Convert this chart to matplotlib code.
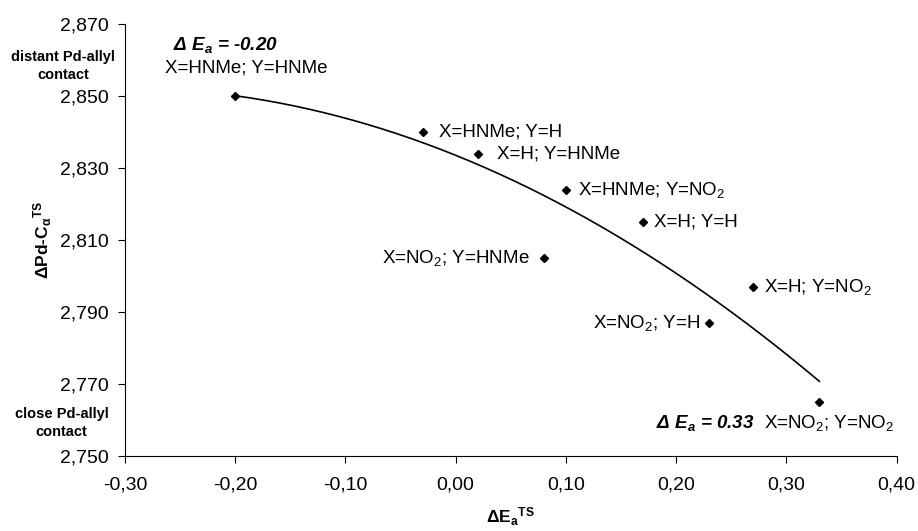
import numpy as np
import matplotlib.pyplot as plt

plt.rcParams['font.family'] = ['Liberation Sans', 'DejaVu Sans']
plt.rcParams['mathtext.default'] = 'regular'

# data
dEa = [-0.20, -0.03, 0.02, 0.10, 0.17, 0.08, 0.27, 0.23, 0.33]
pd_c = [2.850, 2.840, 2.834, 2.824, 2.815, 2.805, 2.797, 2.787, 2.765]
labels = ['X=HNMe; Y=HNMe', 'X=HNMe; Y=H', 'X=H; Y=HNMe', 'X=HNMe; Y=NO$_2$',
          'X=H; Y=H', 'X=NO$_2$; Y=HNMe', 'X=H; Y=NO$_2$', 'X=NO$_2$; Y=H',
          'X=NO$_2$; Y=NO$_2$']
# label offsets in points and alignment
offsets = [(8, 20), (12, 0), (14, 0), (9, 0), (8, 0), (-10, 0), (8, 0), (-6, 0), (7, -15)]
aligns = ['center', 'left', 'left', 'left', 'left', 'right', 'left', 'right', 'center']

fig = plt.figure(figsize=(9.18, 5.31), dpi=100)
ax = fig.add_axes([0.1362, 0.1412, 0.8404, 0.8136])

ax.plot(dEa, pd_c, 'D', color='black', markersize=4)

# second order trend line
coef = np.polyfit(dEa, pd_c, 2)
xs = np.linspace(min(dEa), max(dEa), 200)
ax.plot(xs, np.polyval(coef, xs), color='black', lw=1.2)

for x, y, lab, off, ha in zip(dEa, pd_c, labels, offsets, aligns):
    ax.annotate(lab, (x, y), xytext=off, textcoords='offset points',
                ha=ha, va='center', fontsize=13.5)

ax.annotate('Δ E$_a$ = -0.20', (dEa[0], pd_c[0]), xytext=(-7, 37),
            textcoords='offset points', ha='center', va='center',
            fontsize=13.5, fontweight='bold', style='italic')
ax.annotate('Δ E$_a$ = 0.33', (dEa[-1], pd_c[-1]), xytext=(-47, -15),
            textcoords='offset points', ha='right', va='center',
            fontsize=13.5, fontweight='bold', style='italic')

ax.set_xlim(-0.30, 0.40)
ax.set_ylim(2.750, 2.870)
ax.set_xticks(np.arange(-0.30, 0.41, 0.10))
ax.set_yticks(np.arange(2.750, 2.871, 0.020))
ax.set_xticklabels([f'{v:.2f}'.replace('.', ',') for v in np.arange(-0.30, 0.41, 0.10)])
ax.set_yticklabels([f'{v:.3f}'.replace('.', ',') for v in np.arange(2.750, 2.871, 0.020)])
ax.tick_params(labelsize=14, length=5, direction='out', width=0.8)
ax.tick_params(axis='x', pad=10)
ax.tick_params(axis='y', pad=7)

for s in ['top', 'right']:
    ax.spines[s].set_visible(False)

ax.set_xlabel('ΔE$_a$$^{TS}$', fontsize=12.5, fontweight='bold', labelpad=8)
ax.set_ylabel('ΔPd-C$_α$$^{TS}$', fontsize=12.5, fontweight='bold', labelpad=4)

fig.text(0.069, 0.876, 'distant Pd-allyl\ncontact', ha='center', va='center',
         fontsize=10.5, fontweight='bold', linespacing=1.35)
fig.text(0.067, 0.203, 'close Pd-allyl\ncontact', ha='center', va='center',
         fontsize=10.5, fontweight='bold', linespacing=1.35)

fig.savefig('out.png', dpi=100)
